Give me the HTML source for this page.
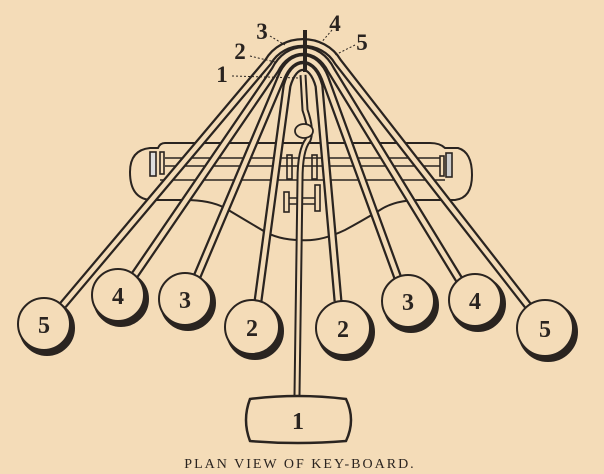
<!DOCTYPE html>
<html><head><meta charset="utf-8"><style>
html,body{margin:0;padding:0;background:#f4dcb8;}
svg{display:block}
.n{font-family:"Liberation Serif",serif;font-weight:bold;fill:#2a2420}
.c{font-family:"Liberation Serif",serif;font-weight:normal;fill:#2a2420}
</style></head><body>
<svg width="604" height="474" viewBox="0 0 604 474" xmlns="http://www.w3.org/2000/svg">
<rect width="604" height="474" fill="#f4dcb8"/>
<!-- board -->
<path d="M165,143 L430,143 Q440,143 445,148 L458,148 Q472,152 472,175 Q472,198 455,200 L420,200 Q395,200 380,210 Q360,222 345,230 Q320,242 300,240 Q278,240 262,230 Q245,220 225,208 Q210,200 185,200 L150,200 Q130,198 130,172 Q130,150 150,148 L158,148 Q160,143 165,143 Z" fill="#f4dcb8" stroke="#2a2420" stroke-width="2"/>
<g stroke="#2a2420" stroke-width="1.6" fill="none">
<line x1="165" y1="158" x2="440" y2="158"/><line x1="165" y1="166" x2="440" y2="166"/>
<line x1="160" y1="180" x2="445" y2="180"/>
<rect x="150" y="152" width="6" height="24" fill="#ddd"/>
<rect x="160" y="152" width="4" height="22"/>
<rect x="446" y="153" width="6" height="24" fill="#ccc"/>
<rect x="440" y="156" width="4" height="20"/>
<rect x="287" y="155" width="5" height="24"/>
<rect x="312" y="155" width="5" height="24"/>
<rect x="284" y="192" width="5" height="20"/>
<rect x="315" y="185" width="5" height="26"/>
<line x1="289" y1="198" x2="315" y2="198"/><line x1="289" y1="204" x2="315" y2="204"/>
</g>
<!-- rods -->
<g fill="none" stroke-linecap="butt" stroke-linejoin="round">
<g stroke="#2a2420" stroke-width="9">
<path d="M63,305 L268,62 C283,36 323,36 338,62 L529,307"/>
<path d="M134,276 L275,70 C288,44 318,44 331,70 L460,281"/>
<path d="M196,279 L281,78 C291,52 315,52 325,78 L399,281"/>
<path d="M258,301 L287,86 C294,60 312,60 319,86 L338,301"/>
</g>
<g stroke="#f4dcb8" stroke-width="4.5">
<path d="M63,305 L268,62 C283,36 323,36 338,62 L529,307"/>
<path d="M134,276 L275,70 C288,44 318,44 331,70 L460,281"/>
<path d="M196,279 L281,78 C291,52 315,52 325,78 L399,281"/>
<path d="M258,301 L287,86 C294,60 312,60 319,86 L338,301"/>
</g>
<path d="M297,395 L300,180 Q300,150 308,140 Q312,130 305,110 L303,75" stroke="#2a2420" stroke-width="7"/>
<path d="M297,395 L300,180 Q300,150 308,140 Q312,130 305,110 L303,75" stroke="#f4dcb8" stroke-width="3"/>
</g>
<ellipse cx="304" cy="131" rx="9" ry="7" fill="#f4dcb8" stroke="#2a2420" stroke-width="1.8"/>
<line x1="305" y1="30" x2="305" y2="72" stroke="#2a2420" stroke-width="4"/>
<!-- labels -->
<g stroke="#2a2420" stroke-width="1" stroke-dasharray="2,2" fill="none">
<line x1="270" y1="36" x2="285" y2="45"/>
<line x1="332" y1="30" x2="320" y2="44"/>
<line x1="355" y1="45" x2="335" y2="55"/>
<line x1="250" y1="56" x2="275" y2="62"/>
<line x1="232" y1="76" x2="300" y2="78"/>
</g>
<g class="n" font-size="23" text-anchor="middle">
<text x="262" y="39">3</text>
<text x="335" y="31">4</text>
<text x="362" y="50">5</text>
<text x="240" y="59">2</text>
<text x="222" y="82">1</text>
</g>
<!-- keys -->
<g stroke="#2a2420" stroke-width="2" fill="#f4dcb8">
<g><circle cx="47" cy="328" r="27" fill="#2a2420"/><circle cx="44" cy="324" r="26"/></g>
<g><circle cx="121" cy="299" r="27" fill="#2a2420"/><circle cx="118" cy="295" r="26"/></g>
<g><circle cx="188" cy="303" r="27" fill="#2a2420"/><circle cx="185" cy="299" r="26"/></g>
<g><circle cx="255" cy="331" r="28" fill="#2a2420"/><circle cx="252" cy="327" r="27"/></g>
<g><circle cx="346" cy="332" r="28" fill="#2a2420"/><circle cx="343" cy="328" r="27"/></g>
<g><circle cx="411" cy="305" r="27" fill="#2a2420"/><circle cx="408" cy="301" r="26"/></g>
<g><circle cx="478" cy="304" r="27" fill="#2a2420"/><circle cx="475" cy="300" r="26"/></g>
<g><circle cx="548" cy="332" r="29" fill="#2a2420"/><circle cx="545" cy="328" r="28"/></g>
<path d="M250,399 Q298,393 346,399 Q356,420 346,441 Q298,445 250,441 Q242,420 250,399 Z" stroke-width="2.5"/>
</g>
<g class="n" font-size="24" text-anchor="middle">
<text x="44" y="333">5</text><text x="118" y="304">4</text><text x="185" y="308">3</text>
<text x="252" y="336">2</text><text x="343" y="337">2</text><text x="408" y="310">3</text>
<text x="475" y="309">4</text><text x="545" y="337">5</text>
<text x="298" y="429">1</text>
</g>
<text class="c" x="300" y="468" font-size="14" text-anchor="middle" letter-spacing="2">PLAN VIEW OF KEY-BOARD.</text>
</svg>
</body></html>
